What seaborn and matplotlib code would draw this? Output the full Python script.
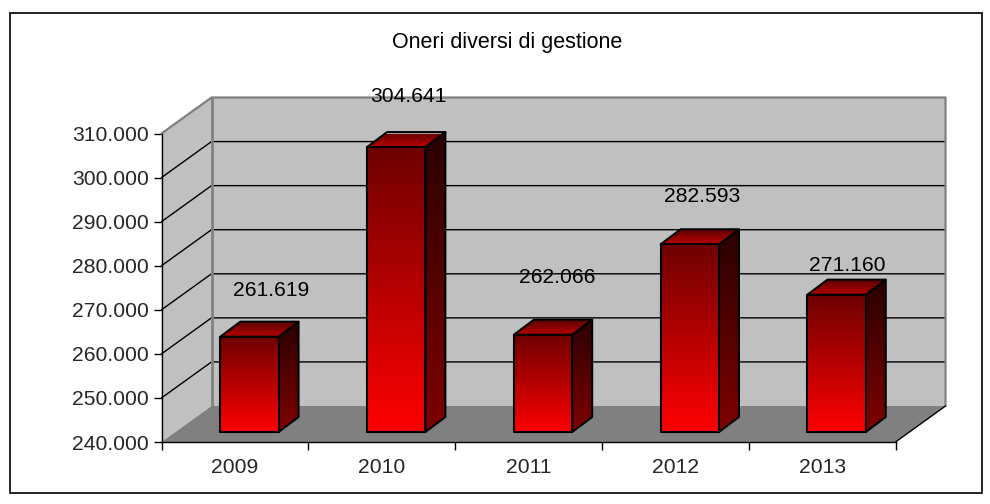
import numpy as np
import pandas as pd
import matplotlib
matplotlib.use("Agg")
import matplotlib.pyplot as plt
from matplotlib.colors import LinearSegmentedColormap
from matplotlib.patches import Polygon, Rectangle
from matplotlib.transforms import IdentityTransform
import seaborn as sns

TITLE = "Oneri diversi di gestione"
years = ["2009", "2010", "2011", "2012", "2013"]
values = [261619, 304641, 262066, 282593, 271160]
value_labels = ["261.619", "304.641", "262.066", "282.593", "271.160"]
y_ticks = [240000, 250000, 260000, 270000, 280000, 290000, 300000, 310000]
y_tick_labels = ["240.000", "250.000", "260.000", "270.000", "280.000", "290.000", "300.000", "310.000"]

# hand placed labels in the original, pixels from the front top centre of each bar
LABEL_NUDGE = [(22, 46), (12, 51), (14, 57), (12, 48), (11, 29)]

W, H = 990, 504
WALL = (50, 36)       # depth of the box
BAR_SHIFT = (14.5, 10)  # bars stand a bit behind the front plane
BAR_DEPTH = (20, 15)
FONT_SIZE = 15.2

sns.set_style("white")
plt.rcParams["font.family"] = ["Liberation Sans", "DejaVu Sans"]

fig = plt.figure(figsize=(W / 100, H / 100), dpi=100)
ax = fig.add_axes([161.5 / W, (H - 442) / H, 734 / W, 308.5 / H])
fig.patches.append(Rectangle((9.5 / W, (H - 492.5) / H), 972 / W, 480 / H, transform=fig.transFigure,
                             facecolor="white", edgecolor="black", linewidth=1.2, zorder=-1))

df = pd.DataFrame({"year": years, "value": values})
sns.barplot(data=df, x="year", y="value", width=0.397, ax=ax, facecolor="none", edgecolor="black", linewidth=1.5)
ax.set_xlim(-0.5, len(years) - 0.5)
ax.set_ylim(y_ticks[0], y_ticks[-1])
ax.set_xlabel("")
ax.set_ylabel("")
ax.patch.set_visible(False)

px = IdentityTransform()


def to_px(x, y):
    return ax.transData.transform((x, y))


def add_poly(points, **kws):
    poly = Polygon(points, closed=True, transform=px, clip_on=False, **kws)
    ax.add_patch(poly)
    return poly


def gradient_face(points, top_color, bottom_color, zorder):
    points = np.array(points)
    cmap = LinearSegmentedColormap.from_list("face", [top_color, bottom_color])
    poly = add_poly(points, facecolor="none", edgecolor="black", linewidth=1.5, zorder=zorder + 0.1, joinstyle="round")
    im = ax.imshow(np.linspace(0, 1, 256).reshape(-1, 1), cmap=cmap, aspect="auto", origin="upper", transform=px,
                   extent=(points[:, 0].min(), points[:, 0].max(), points[:, 1].min(), points[:, 1].max()),
                   zorder=zorder)
    im.set_clip_path(poly)


# box walls
x0, x1 = ax.get_xlim()
y0, y1 = ax.get_ylim()
fl, fb = to_px(x0, y0)
fr, ft = to_px(x1, y1)
dx, dy = WALL
add_poly([(fl, fb), (fl + dx, fb + dy), (fl + dx, ft + dy), (fl, ft)], facecolor="#c0c0c0", edgecolor="none", zorder=1)
add_poly([(fl + dx, fb + dy), (fr + dx, fb + dy), (fr + dx, ft + dy), (fl + dx, ft + dy)], facecolor="#c0c0c0",
         edgecolor="none", zorder=1)

# gridlines on the back and side wall
for tick in y_ticks[1:-1]:
    _, yp = to_px(x0, tick)
    ax.plot([fl, fl + dx, fr + dx], [yp, yp + dy, yp + dy], color="black", linewidth=1, transform=px, clip_on=False, zorder=1.5)

add_poly([(fl, fb), (fr, fb), (fr + dx, fb + dy), (fl + dx, fb + dy)], facecolor="#808080", edgecolor="none", zorder=2)
ax.plot([fl, fl + dx, fr + dx, fr + dx], [ft, ft + dy, ft + dy, fb + dy], color="#808080", linewidth=1.6, transform=px,
        clip_on=False, zorder=2)
ax.plot([fl + dx, fl + dx], [ft + dy, fb + dy], color="#808080", linewidth=2, transform=px, clip_on=False, zorder=2)
ax.plot([fr, fr + dx], [fb, fb + dy], color="black", linewidth=1, transform=px, clip_on=False, zorder=2.5)

# turn the flat seaborn bars into boxes
sx, sy = BAR_SHIFT
bx, by = BAR_DEPTH
for i, bar in enumerate(ax.patches[:len(years)]):
    left, top = bar.get_x(), bar.get_height()
    xa, ya = to_px(left, y0)
    xb, yb = to_px(left + bar.get_width(), top)
    xa, ya, xb, yb = xa + sx, ya + sy, xb + sx, yb + sy
    bar.set_visible(False)
    z = 3 + i
    gradient_face([(xb, ya), (xb + bx, ya + by), (xb + bx, yb + by), (xb, yb)], "#2a0000", "#800000", z)
    gradient_face([(xa, yb), (xb, yb), (xb + bx, yb + by), (xa + bx, yb + by)], "#5c0000", "#bc0000", z + 0.2)
    gradient_face([(xa, ya), (xb, ya), (xb, yb), (xa, yb)], "#6e0000", "#ff0000", z + 0.4)
    nx, ny = LABEL_NUDGE[i]
    ax.text((xa + xb) / 2 + nx, yb + ny, value_labels[i], transform=px, ha="center", va="center", fontsize=FONT_SIZE,
            color="black", zorder=20, clip_on=False)

ax.set_xlim(x0, x1)
ax.set_ylim(y0, y1)

# axis ticks
ax.set_yticks(y_ticks, y_tick_labels, fontsize=FONT_SIZE)
ax.set_xticks(range(len(years)), years, fontsize=FONT_SIZE)
ax.set_xticks(np.arange(len(years) + 1) - 0.5, minor=True)
ax.tick_params(axis="x", which="major", length=0, pad=11.5)
ax.tick_params(axis="x", which="minor", length=6, width=1, color="black", bottom=True)
ax.tick_params(axis="y", which="major", length=6, width=1, color="black", left=True, pad=3)
sns.despine(ax=ax, top=True, right=True)
for side in ["left", "bottom"]:
    ax.spines[side].set_color("black")
    ax.spines[side].set_linewidth(1)
    ax.spines[side].set_zorder(2.6)

fig.text(507.5 / W, (H - 42.5) / H, TITLE, ha="center", va="center", fontsize=15.5, color="black")

fig.savefig("out.png", dpi=100)
